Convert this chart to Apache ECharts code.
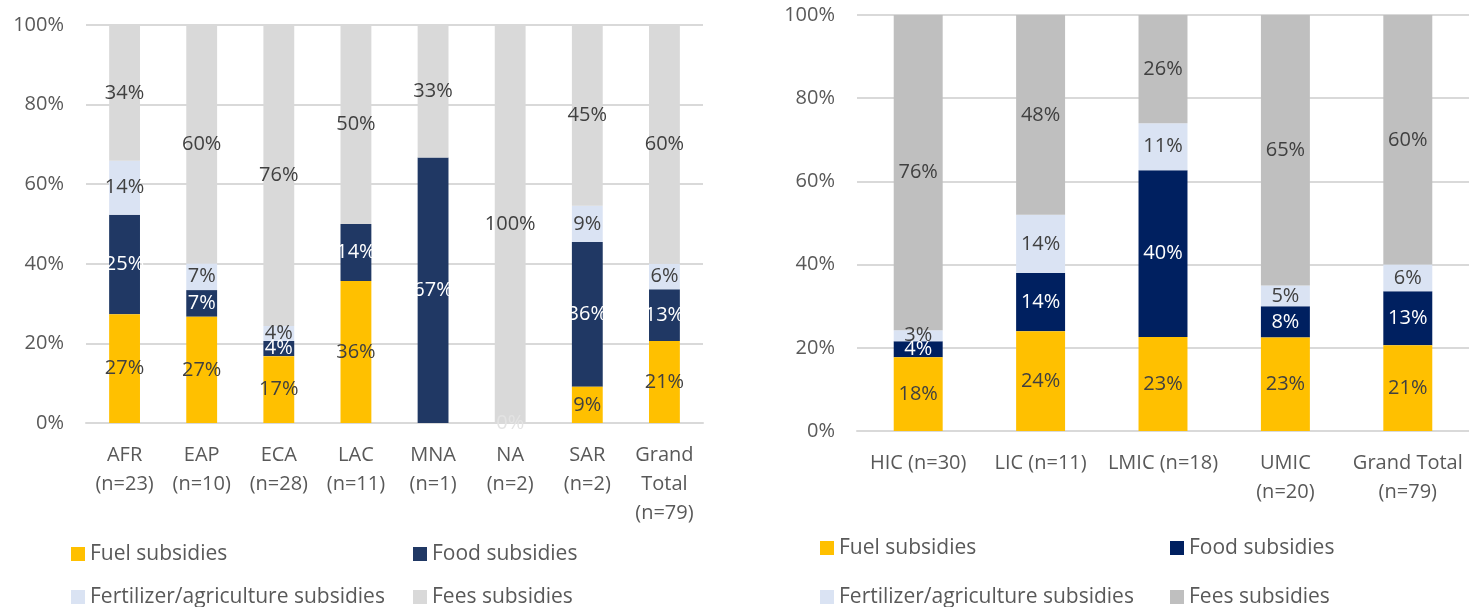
<!DOCTYPE html>
<html>
<head>
<meta charset="utf-8">
<title>Subsidies by region and income group</title>
<script src="https://cdn.jsdelivr.net/npm/echarts@6/dist/echarts.min.js"></script>
<style>
  html, body { margin: 0; padding: 0; background: #fff; }
  #left { position: absolute; left: 0; top: 0; width: 740px; height: 607px; }
  #right { position: absolute; left: 740px; top: 0; width: 729px; height: 607px; }
</style>
</head>
<body>
<div id="left"></div>
<div id="right"></div>
<script>
// series names
var seriesNames = ['Fuel subsidies', 'Food subsidies', 'Fertilizer/agriculture subsidies', 'Fees subsidies'];

// left chart: by region (shares in %)
var regionCats = ['AFR\n(n=23)', 'EAP\n(n=10)', 'ECA\n(n=28)', 'LAC\n(n=11)', 'MNA\n(n=1)', 'NA\n(n=2)', 'SAR\n(n=2)', 'Grand\nTotal\n(n=79)'];
var regionFuel = [27.3, 26.7, 16.8, 35.7, null, 0, 9.1, 20.6];
var regionFood = [25.0, 6.7, 3.8, 14.3, 66.7, null, 36.4, 13.0];
var regionFert = [13.6, 6.7, 3.8, null, null, null, 9.1, 6.4];
var regionFees = [34.1, 60.0, 75.6, 50.0, 33.3, 100, 45.4, 60.0];

// right chart: by income group (shares in %)
var incomeCats = ['HIC (n=30)', 'LIC (n=11)', 'LMIC (n=18)', 'UMIC\n(n=20)', 'Grand Total\n(n=79)'];
var incomeFuel = [17.7, 24.0, 22.6, 22.5, 20.6];
var incomeFood = [3.9, 14.0, 40.1, 7.5, 13.0];
var incomeFert = [2.6, 14.0, 11.3, 5.0, 6.4];
var incomeFees = [75.8, 48.0, 26.0, 65.0, 60.0];

var yTicks = [0, 20, 40, 60, 80, 100];

var FONT = '"Open Sans", "Noto Sans", sans-serif';
var TXT = '#595959';

function pctLabel(color) {
    return {
        show: true,
        position: 'inside',
        color: color,
        fontFamily: FONT,
        fontSize: 20,
        formatter: function (p) {
            if (p.value == null) return '';
            return Math.round(p.value) + '%';
        }
    };
}

function buildOption(cats, values, colors, grid, legendPos) {
    var series = [];
    for (var i = 0; i < seriesNames.length; i++) {
        var lblColor = (i == 1) ? '#ffffff' : '#404040';
        var data = values[i].map(function (v) {
            // zero-height bar gets a faint label, like the reference
            if (v === 0) return { value: 0, label: { color: '#e3e3e3' } };
            return v;
        });
        series.push({
            name: seriesNames[i],
            type: 'bar',
            stack: 'total',
            barWidth: '40%',
            itemStyle: { color: colors[i] },
            label: pctLabel(lblColor),
            emphasis: { disabled: true },
            z: 2 + (i == 0 ? 1 : 0),
            data: data
        });
    }
    var legends = [];
    for (var j = 0; j < seriesNames.length; j++) {
        legends.push({
            data: [seriesNames[j]],
            left: legendPos[j][0],
            top: legendPos[j][1],
            padding: 0,
            itemWidth: 14,
            itemHeight: 14,
            icon: 'rect',
            selectedMode: false,
            textStyle: { color: TXT, fontFamily: FONT, fontSize: 21, lineHeight: 24 }
        });
    }
    return {
        animation: false,
        legend: legends,
        grid: grid,
        xAxis: {
            type: 'category',
            data: cats,
            axisTick: { show: false },
            axisLine: { lineStyle: { color: '#d9d9d9', width: 2 } },
            axisLabel: {
                interval: 0,
                margin: 18,
                color: TXT,
                fontFamily: FONT,
                fontSize: 20,
                lineHeight: 29
            }
        },
        yAxis: {
            type: 'value',
            min: yTicks[0],
            max: yTicks[yTicks.length - 1],
            interval: yTicks[1] - yTicks[0],
            axisLine: { show: false },
            axisTick: { show: false },
            splitLine: { lineStyle: { color: '#d9d9d9', width: 2 } },
            axisLabel: {
                margin: 22,
                color: TXT,
                fontFamily: FONT,
                fontSize: 20,
                formatter: '{value}%'
            }
        },
        series: series
    };
}

var leftChart = echarts.init(document.getElementById('left'));
leftChart.setOption(buildOption(
    regionCats,
    [regionFuel, regionFood, regionFert, regionFees],
    ['#ffc000', '#203864', '#dae3f3', '#d9d9d9'],
    { left: 86, right: 37, top: 25, bottom: 184 },
    [[71, 542], [413, 542], [71, 585], [413, 585]]
));

var rightChart = echarts.init(document.getElementById('right'));
rightChart.setOption(buildOption(
    incomeCats,
    [incomeFuel, incomeFood, incomeFert, incomeFees],
    ['#ffc000', '#002060', '#dae3f3', '#bfbfbf'],
    { left: 117, right: -3, top: 15, bottom: 176 },
    [[80, 536], [430, 536], [80, 585], [430, 585]]
));
</script>
</body>
</html>
